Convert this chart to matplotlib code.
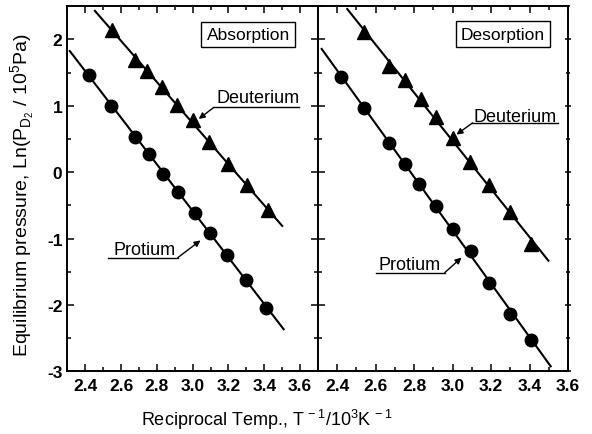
import numpy as np
import matplotlib
matplotlib.use("Agg")
import matplotlib.pyplot as plt
from matplotlib.ticker import MultipleLocator

plt.rcParams['font.family'] = ['Liberation Sans', 'DejaVu Sans']
plt.rcParams['mathtext.fontset'] = 'custom'
plt.rcParams['mathtext.rm'] = 'Liberation Sans'
plt.rcParams['axes.unicode_minus'] = False

# ---- data ----
abs_H_x = [2.423, 2.543, 2.679, 2.758, 2.833, 2.919, 3.012, 3.096, 3.193, 3.300, 3.412]
abs_H_y = [1.469, 1.003, 0.532, 0.277, -0.024, -0.301, -0.611, -0.911, -1.253, -1.629, -2.039]
abs_D_x = [2.549, 2.679, 2.745, 2.829, 2.913, 3.003, 3.090, 3.197, 3.302, 3.418]
abs_D_y = [2.146, 1.695, 1.519, 1.284, 1.018, 0.782, 0.451, 0.126, -0.196, -0.571]

des_H_x = [2.418, 2.539, 2.671, 2.752, 2.825, 2.912, 3.000, 3.094, 3.190, 3.300, 3.410]
des_H_y = [1.435, 0.968, 0.442, 0.131, -0.174, -0.511, -0.862, -1.188, -1.663, -2.129, -2.526]
des_D_x = [2.539, 2.669, 2.752, 2.836, 2.912, 3.000, 3.090, 3.189, 3.300, 3.406]
des_D_y = [2.111, 1.594, 1.394, 1.108, 0.833, 0.517, 0.156, -0.200, -0.592, -1.087]

# x-range of the fitted lines
abs_H_fit_range = [2.314, 3.508]
abs_D_fit_range = [2.454, 3.500]
des_H_fit_range = [2.319, 3.510]
des_D_fit_range = [2.452, 3.498]

xticks = [2.4, 2.6, 2.8, 3.0, 3.2, 3.4, 3.6]
xticklabels = ['2.4', '2.6', '2.8', '3.0', '3.2', '3.4', '3.6']
yticks = [-3, -2, -1, 0, 1, 2]
yticklabels = ['-3', '-2', '-1', '0', '1', '2']

fig = plt.figure(figsize=(5.92, 4.35), dpi=100)
ax1 = fig.add_axes([0.1137, 0.1441, 0.4235, 0.8391])
ax2 = fig.add_axes([0.5372, 0.1441, 0.4223, 0.8391])

def fit_line(ax, xs, ys, rng):
    p = np.polyfit(xs, ys, 1)
    xx = np.array(rng)
    ax.plot(xx, np.polyval(p, xx), color='black', lw=1.5, zorder=2)

for ax, Hx, Hy, Dx, Dy, Hr, Dr, xlim in [
        (ax1, abs_H_x, abs_H_y, abs_D_x, abs_D_y, abs_H_fit_range, abs_D_fit_range, (2.3, 3.7)),
        (ax2, des_H_x, des_H_y, des_D_x, des_D_y, des_H_fit_range, des_D_fit_range, (2.3, 3.6))]:
    fit_line(ax, Hx, Hy, Hr)
    fit_line(ax, Dx, Dy, Dr)
    ax.plot(Hx, Hy, 'o', color='black', ms=9, zorder=3)
    ax.plot(Dx, Dy, '^', color='black', ms=10.5, zorder=3)
    ax.set_xlim(*xlim)
    ax.set_ylim(-3, 2.5)
    ax.set_xticks(xticks)
    ax.set_xticklabels(xticklabels, fontweight='bold', fontsize=12.5)
    ax.xaxis.set_minor_locator(MultipleLocator(0.1))
    ax.yaxis.set_major_locator(MultipleLocator(1))
    ax.yaxis.set_minor_locator(MultipleLocator(0.5))
    for s in ax.spines.values():
        s.set_linewidth(1.4)
    ax.tick_params(which='both', direction='in', top=True, right=True, width=1.1)
    ax.tick_params(which='major', length=5)
    ax.tick_params(which='minor', length=3)
    ax.tick_params(axis='x', pad=5)

ax1.set_yticks(yticks)
ax1.set_yticklabels(yticklabels, fontweight='bold', fontsize=12.5)
ax2.tick_params(axis='y', labelleft=False)
ax2.tick_params(axis='y', which='both', right=True, direction='inout')
# left ticks of the right panel point inward only
for t in ax2.yaxis.get_major_ticks() + ax2.yaxis.get_minor_ticks():
    t.tick1line.set_marker(matplotlib.markers.TICKRIGHT)

# boxed titles
box = dict(boxstyle='square,pad=0.3', fc='white', ec='black', lw=1.0)
ax1.text(0.722, 0.923, 'Absorption', transform=ax1.transAxes, ha='center', va='center',
         fontsize=12.5, bbox=box)
ax2.text(0.739, 0.924, 'Desorption', transform=ax2.transAxes, ha='center', va='center',
         fontsize=12.5, bbox=box)

arrow = dict(arrowstyle='-|>', color='black', lw=1.0, mutation_scale=9, shrinkA=0, shrinkB=0)

def label(ax, text, tx, ty, ux0, ux1, uy, tip):
    ax.text(tx, ty, text, fontsize=13, ha='left', va='baseline')
    ax.plot([ux0, ux1], [uy, uy], color='black', lw=1.0)
    ax.annotate('', xy=tip, xytext=(ux0 if tip[0] < ux0 else ux1, uy), arrowprops=arrow)

label(ax1, 'Deuterium', 3.134, 1.053, 3.118, 3.595, 0.977, (3.034, 0.803))
label(ax1, 'Protium', 2.556, -1.23, 2.530, 2.917, -1.287, (3.044, -1.027))
label(ax2, 'Deuterium', 3.11, 0.777, 3.103, 3.548, 0.743, (3.02, 0.567))
label(ax2, 'Protium', 2.612, -1.453, 2.604, 2.959, -1.513, (3.046, -1.287))

fig.text(0.451, 0.035, r'Reciprocal Temp., T$^{\mathregular{\,-1}}$/10$^{\mathregular{3}}$K$^{\mathregular{\,-1}}$',
         ha='center', va='center', fontsize=13)
fig.text(0.038, 0.552, r'Equilibrium pressure, Ln(P$_{\mathregular{D}_{\mathregular{2}}}$ / 10$^{\mathregular{5}}$Pa)',
         ha='center', va='center', rotation=90, fontsize=14)

fig.savefig('out.png', dpi=100)
